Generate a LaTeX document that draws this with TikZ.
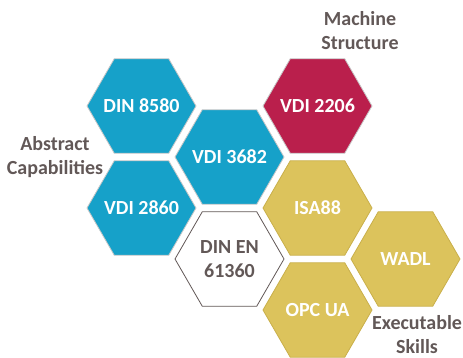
\documentclass[tikz,border=0pt]{standalone}
\usepackage{fontspec}
\setmainfont{Carlito}
\usetikzlibrary{shapes.geometric}

\definecolor{hexBlue}{HTML}{16A1C9}
\definecolor{hexRed}{HTML}{BA1F4C}
\definecolor{hexGold}{HTML}{DCC35C}
\definecolor{goldLine}{HTML}{C9AF4A}
\definecolor{labelGray}{HTML}{625857}

\def\hexSize{109pt}
\def\colStep{88}
\def\rowStep{51}

\begin{document}
\begin{tikzpicture}[x=1pt,y=1pt,
    hex/.style={regular polygon,regular polygon sides=6,minimum size=\hexSize,inner sep=0pt,
      line width=0.8pt},
    bluehex/.style={hex,fill=hexBlue,draw=black!22},
    redhex/.style={hex,fill=hexRed,draw=black!22},
    goldhex/.style={hex,fill=hexGold,draw=goldLine},
    whitehex/.style={hex,fill=white,draw=labelGray},
    hextext/.style={align=center,inner sep=0pt,font=\bfseries\fontsize{20}{24}\selectfont},
    group/.style={align=center,text=labelGray,font=\bfseries\fontsize{20}{24}\selectfont}]
    \useasboundingbox (0,0) rectangle (463,358);

    % honeycomb: column / half row / name / style / text colour / text
    \foreach \c/\k/\name/\st/\tc/\t in {0/0/din8580/bluehex/white/{DIN 8580},
                                       0/2/vdi2860/bluehex/white/{VDI 2860},
                                       1/1/vdi3682/bluehex/white/{VDI 3682},
                                       1/3/dinen61360/whitehex/labelGray/{DIN EN\\61360},
                                       2/0/vdi2206/redhex/white/{VDI 2206},
                                       2/2/isa88/goldhex/white/{ISA88},
                                       2/4/opcua/goldhex/white/{OPC UA},
                                       3/3/wadl/goldhex/white/{WADL}} {
      \node[\st] (\name) at (141.5+\c*\colStep,252-\k*\rowStep) {};
      \node[hextext,text=\tc] (\name-text) at (\name) {\t};
    }

    \node[group] (structure) at (360,327) {Machine\\Structure};
    \node[group] (capabilities) at (55,201) {Abstract\\Capabilities};
    \node[group] (skills) at (417,23) {Executable\\Skills};
  \end{tikzpicture}
\end{document}
